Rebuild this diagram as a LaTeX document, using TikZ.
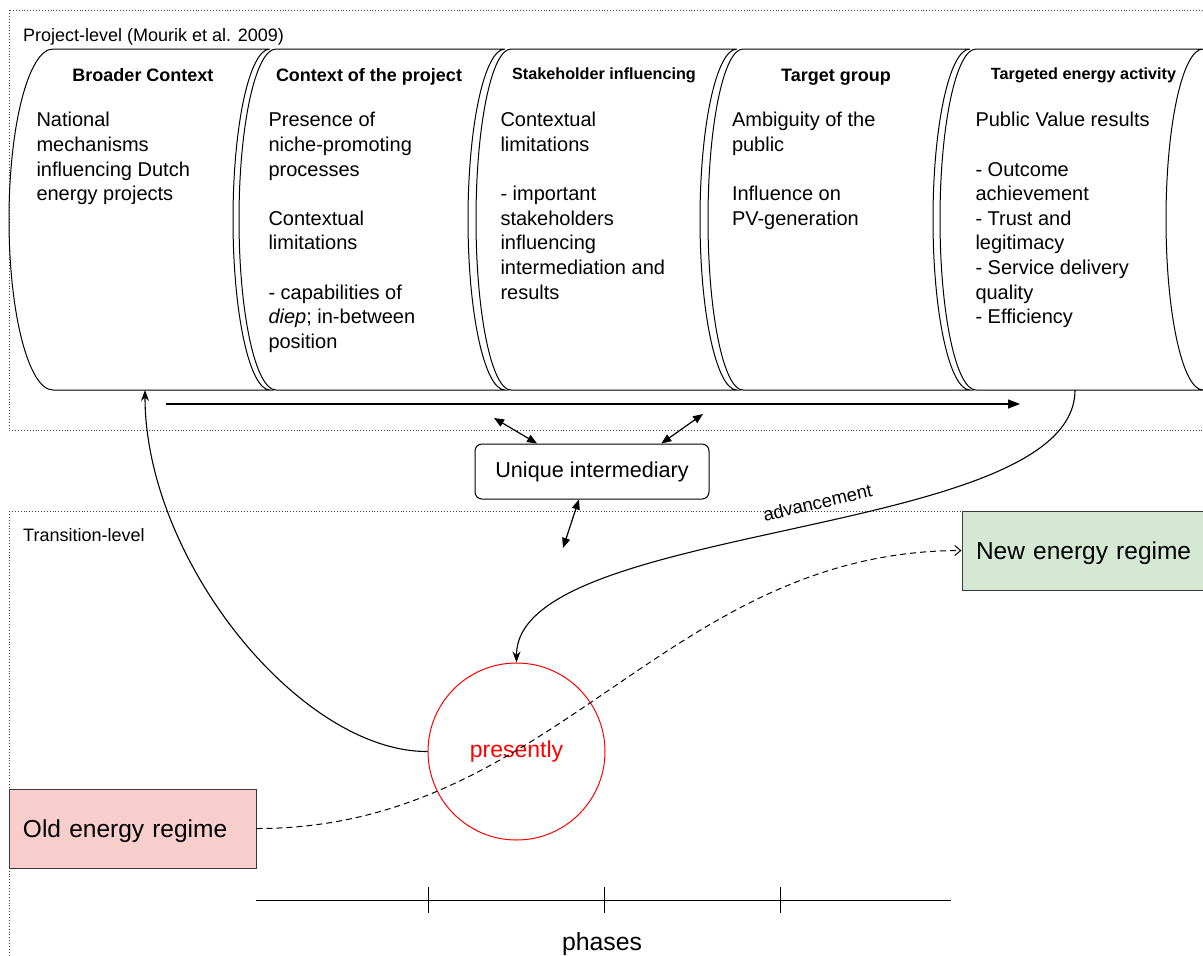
\documentclass[tikz,border=0pt]{standalone}
\usepackage{fontspec}
\setmainfont{Liberation Sans}
\usetikzlibrary{arrows.meta}
\definecolor{oldfill}{HTML}{F8CECC}
\definecolor{newfill}{HTML}{D5E8D4}
\definecolor{boxline}{HTML}{36393D}

\begin{document}
\begin{tikzpicture}[x=1pt, y=-1pt, line width=1pt,
  levelframe/.style={dotted, line width=0.9pt, black!75},
  barrel/.style={line width=1pt},
  heading/.style={anchor=base, font=\bfseries\fontsize{18}{21}\selectfont},
  smallheading/.style={anchor=base, font=\bfseries\fontsize{16.2}{19}\selectfont},
  body/.style={anchor=north west, inner sep=0pt, align=left, font=\fontsize{20}{24.6}\selectfont},
  tier/.style={anchor=base west, inner sep=0pt, font=\fontsize{18}{21}\selectfont},
  regime/.style={draw=boxline, minimum width=247pt, minimum height=79pt, inner xsep=14pt,
    text width=219pt, align=left, text height=17.5pt, text depth=0pt, font=\fontsize{24.5}{28}\selectfont},
  link/.style={{Triangle[length=10pt,width=8pt]}-{Triangle[length=10pt,width=8pt]}, line width=1.2pt},
  flow/.style={-{Triangle[length=12pt,width=9pt]}, line width=1.4pt},
  swing/.style={-{Stealth[length=11pt,width=8pt]}, line width=1.1pt}]
\useasboundingbox (0,0) rectangle (1203,956);
%\draw[help lines] (0,0) grid[step=50] (1203,956);
\draw[levelframe] (9,10) rectangle (1240,430);
\draw[levelframe] (9,511) rectangle (1240,990);
\node[tier] (projectlevel) at (22.7,41) {Project-level (Mourik et al. 2009)};
\node[tier] (transitionlevel) at (22.7,541.7) {Transition-level};

\foreach \xl/\xr/\rl in {53/270/44, 276/505/37, 511/737/35, 743/970/35, 976/1203/36}
  \draw[barrel] (\xr,49) -- (\xl,49) arc[start angle=270, end angle=90, x radius=\rl, y radius=170.5]
    -- (\xr,390) arc[start angle=90, end angle=270, x radius=37, y radius=170.5];

\node[heading] (broader) at (143,81) {Broader Context};
\node[heading] (context) at (369,81) {Context of the project};
\node[smallheading] (stakeholder) at (604,79.5) {Stakeholder influencing};
\node[heading] (target) at (836,81) {Target group};
\node[smallheading] (activity) at (1083.5,79.5) {Targeted energy activity};

\node[body] (broadertext) at (36,112) {National\\mechanisms\\influencing Dutch\\energy projects};
\node[body] (contexttext) at (268,112) {Presence of\\niche-promoting\\processes\\[24.6pt]Contextual\\limitations\\[24.6pt]- capabilities of\\\textit{diep}; in-between\\position};
\node[body] (stakeholdertext) at (500,112) {Contextual\\limitations\\[24.6pt]- important\\stakeholders\\influencing\\intermediation and\\results};
\node[body] (targettext) at (731.5,112) {Ambiguity of the\\public\\[24.6pt]Influence on\\PV-generation};
\node[body] (activitytext) at (975,112) {Public Value results\\[24.6pt]- Outcome\\achievement\\- Trust and\\legitimacy\\- Service delivery\\quality\\- Efficiency};

\coordinate (broaderfoot) at (145,390);
\coordinate (activityfoot) at (1075,390);
\coordinate (flowstart) at (166,404);
\coordinate (flowend) at (1020,404);
\draw[flow] (flowstart) -- (flowend);

\node[draw, rounded corners=7pt, minimum width=234pt, minimum height=55pt, font=\fontsize{21.6}{25}\selectfont] (unique) at (592,471.5) {Unique intermediary};
\coordinate (stakeholderend) at (494,418);
\coordinate (targetend) at (703,414);
\coordinate (transitionend) at (563,548);
\draw[link] (stakeholderend) -- (unique.153);
\draw[link] (targetend) -- (unique.22);
\draw[link] (unique.245) -- (transitionend);

\node[regime, fill=newfill, minimum width=246pt, text width=218pt] (newregime) at (1085,550.5) {New energy regime};
\node[regime, fill=oldfill] (oldregime) at (132.5,828.5) {Old energy regime};
\node[circle, draw=red, minimum size=177pt, text=red, font=\fontsize{23}{27}\selectfont] (presently) at (516.5,751.5) {presently};

\draw[dash pattern=on 6pt off 4pt, -{Straight Barb[length=6pt,width=10pt]}] (oldregime.east) .. controls (554,829) and (665,551) .. (newregime.west);
\draw[swing] (activityfoot) .. controls (1075,540) and (516,520) .. (presently.north);
\node[anchor=base, rotate=13, font=\fontsize{18.5}{21}\selectfont] (advlabel) at (819,509) {advancement};
\draw[swing] (presently.west) .. controls (300,752) and (145,560) .. (broaderfoot);

\coordinate (axisleft) at (256,900);
\coordinate (axisright) at (951,900);
\draw (axisleft) -- (axisright);
\foreach \x in {428,604,780}
  \draw (\x,887) -- (\x,913);
\node[anchor=base, font=\fontsize{24.8}{28}\selectfont] (phases) at (602,950.5) {phases};
\end{tikzpicture}
\end{document}
